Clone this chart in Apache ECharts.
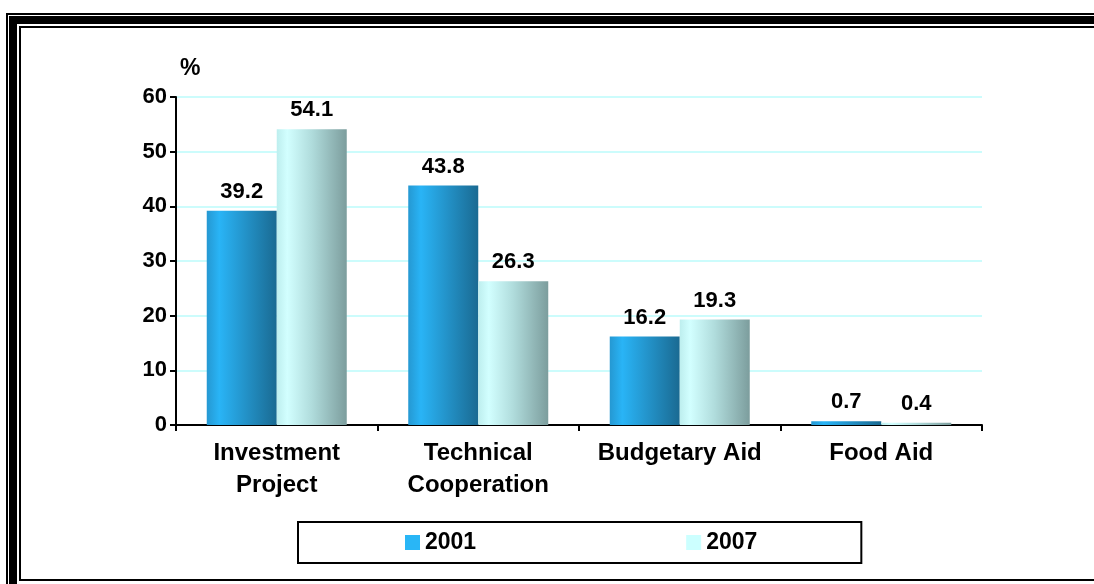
<!DOCTYPE html>
<html>
<head>
<meta charset="utf-8">
<style>
  html, body { margin: 0; padding: 0; background: #ffffff; }
  #chart { width: 1094px; height: 584px; }
</style>
<script src="https://cdn.jsdelivr.net/npm/echarts@6/dist/echarts.min.js"></script>
</head>
<body>
<div id="chart"></div>
<script>
// Share of aid by type, in percent
const categories = ['Investment\nProject', 'Technical\nCooperation', 'Budgetary Aid', 'Food Aid'];
const years = ['2001', '2007'];
const values2001 = [39.2, 43.8, 16.2, 0.7];
const values2007 = [54.1, 26.3, 19.3, 0.4];
const yMin = 0, yMax = 60, yStep = 10;

const FONT = '"Liberation Sans", Arial, sans-serif';
const legendColors = ['#29b6f6', '#ccffff'];

// cylinder-like shading across each bar
const shade2001 = new echarts.graphic.LinearGradient(0, 0, 1, 0, [
  { offset: 0, color: '#2598d2' },
  { offset: 0.18, color: '#29b4f6' },
  { offset: 0.5, color: '#2497cf' },
  { offset: 1, color: '#1a6a92' }
]);
const shade2007 = new echarts.graphic.LinearGradient(0, 0, 1, 0, [
  { offset: 0, color: '#bdeeee' },
  { offset: 0.15, color: '#d2ffff' },
  { offset: 0.5, color: '#b0dcdc' },
  { offset: 1, color: '#7c9d9d' }
]);

// triple-line page frame: thin, thick, thin (running off the right and bottom edges)
const frameLines = [
  { inset: 7, width: 2, bottom: 1200 },
  { inset: 13, width: 8, bottom: 1200 },
  { inset: 20, width: 2, bottom: 580 }
];

const chart = echarts.init(document.getElementById('chart'), null, { renderer: 'canvas' });

const labelStyle = {
  show: true,
  position: 'top',
  distance: 8,
  color: '#000',
  fontFamily: FONT,
  fontWeight: 'bold',
  fontSize: 22
};

chart.setOption({
  backgroundColor: '#ffffff',
  animation: false,
  graphic: frameLines.map(f => ({
    type: 'rect',
    silent: true,
    z: 0,
    shape: { x: f.inset, y: f.inset + 7, width: 1400, height: f.bottom - f.inset - 7 },
    style: { fill: null, stroke: '#000', lineWidth: f.width }
  })),
  title: {
    text: '%',
    left: 175,
    top: 52,
    textStyle: { fontFamily: FONT, fontWeight: 'bold', fontSize: 23, color: '#000' }
  },
  legend: {
    data: years.map((y, i) => ({ name: y, itemStyle: { color: legendColors[i] } })),
    left: 298,
    top: 522,
    orient: 'horizontal',
    icon: 'rect',
    itemWidth: 15,
    itemHeight: 15,
    itemGap: 210,
    padding: [9, 104, 9, 107],
    borderColor: '#000',
    borderWidth: 2,
    backgroundColor: '#fff',
    selectedMode: false,
    textStyle: { fontFamily: FONT, fontWeight: 'bold', fontSize: 23, color: '#000' }
  },
  grid: { left: 176, top: 97, width: 806, height: 328, containLabel: false },
  xAxis: {
    type: 'category',
    data: categories,
    axisLine: { lineStyle: { color: '#000', width: 2 } },
    axisTick: { show: true, length: 6, lineStyle: { color: '#000', width: 2 } },
    axisLabel: {
      color: '#000',
      fontFamily: FONT,
      fontWeight: 'bold',
      fontSize: 24,
      lineHeight: 32,
      margin: 12,
      interval: 0
    }
  },
  yAxis: {
    type: 'value',
    min: yMin,
    max: yMax,
    interval: yStep,
    axisLine: { show: true, lineStyle: { color: '#000', width: 2 } },
    axisTick: { show: true, length: 6, lineStyle: { color: '#000', width: 2 } },
    axisLabel: {
      color: '#000',
      fontFamily: FONT,
      fontWeight: 'bold',
      fontSize: 22,
      margin: 9
    },
    splitLine: { show: true, lineStyle: { color: '#ccfcfc', width: 2 } }
  },
  series: [
    {
      name: years[0],
      type: 'bar',
      data: values2001,
      barWidth: 70,
      barGap: '0%',
      itemStyle: { color: shade2001 },
      label: labelStyle
    },
    {
      name: years[1],
      type: 'bar',
      data: values2007,
      barWidth: 70,
      barGap: '0%',
      itemStyle: { color: shade2007 },
      label: labelStyle
    }
  ]
});
</script>
</body>
</html>
